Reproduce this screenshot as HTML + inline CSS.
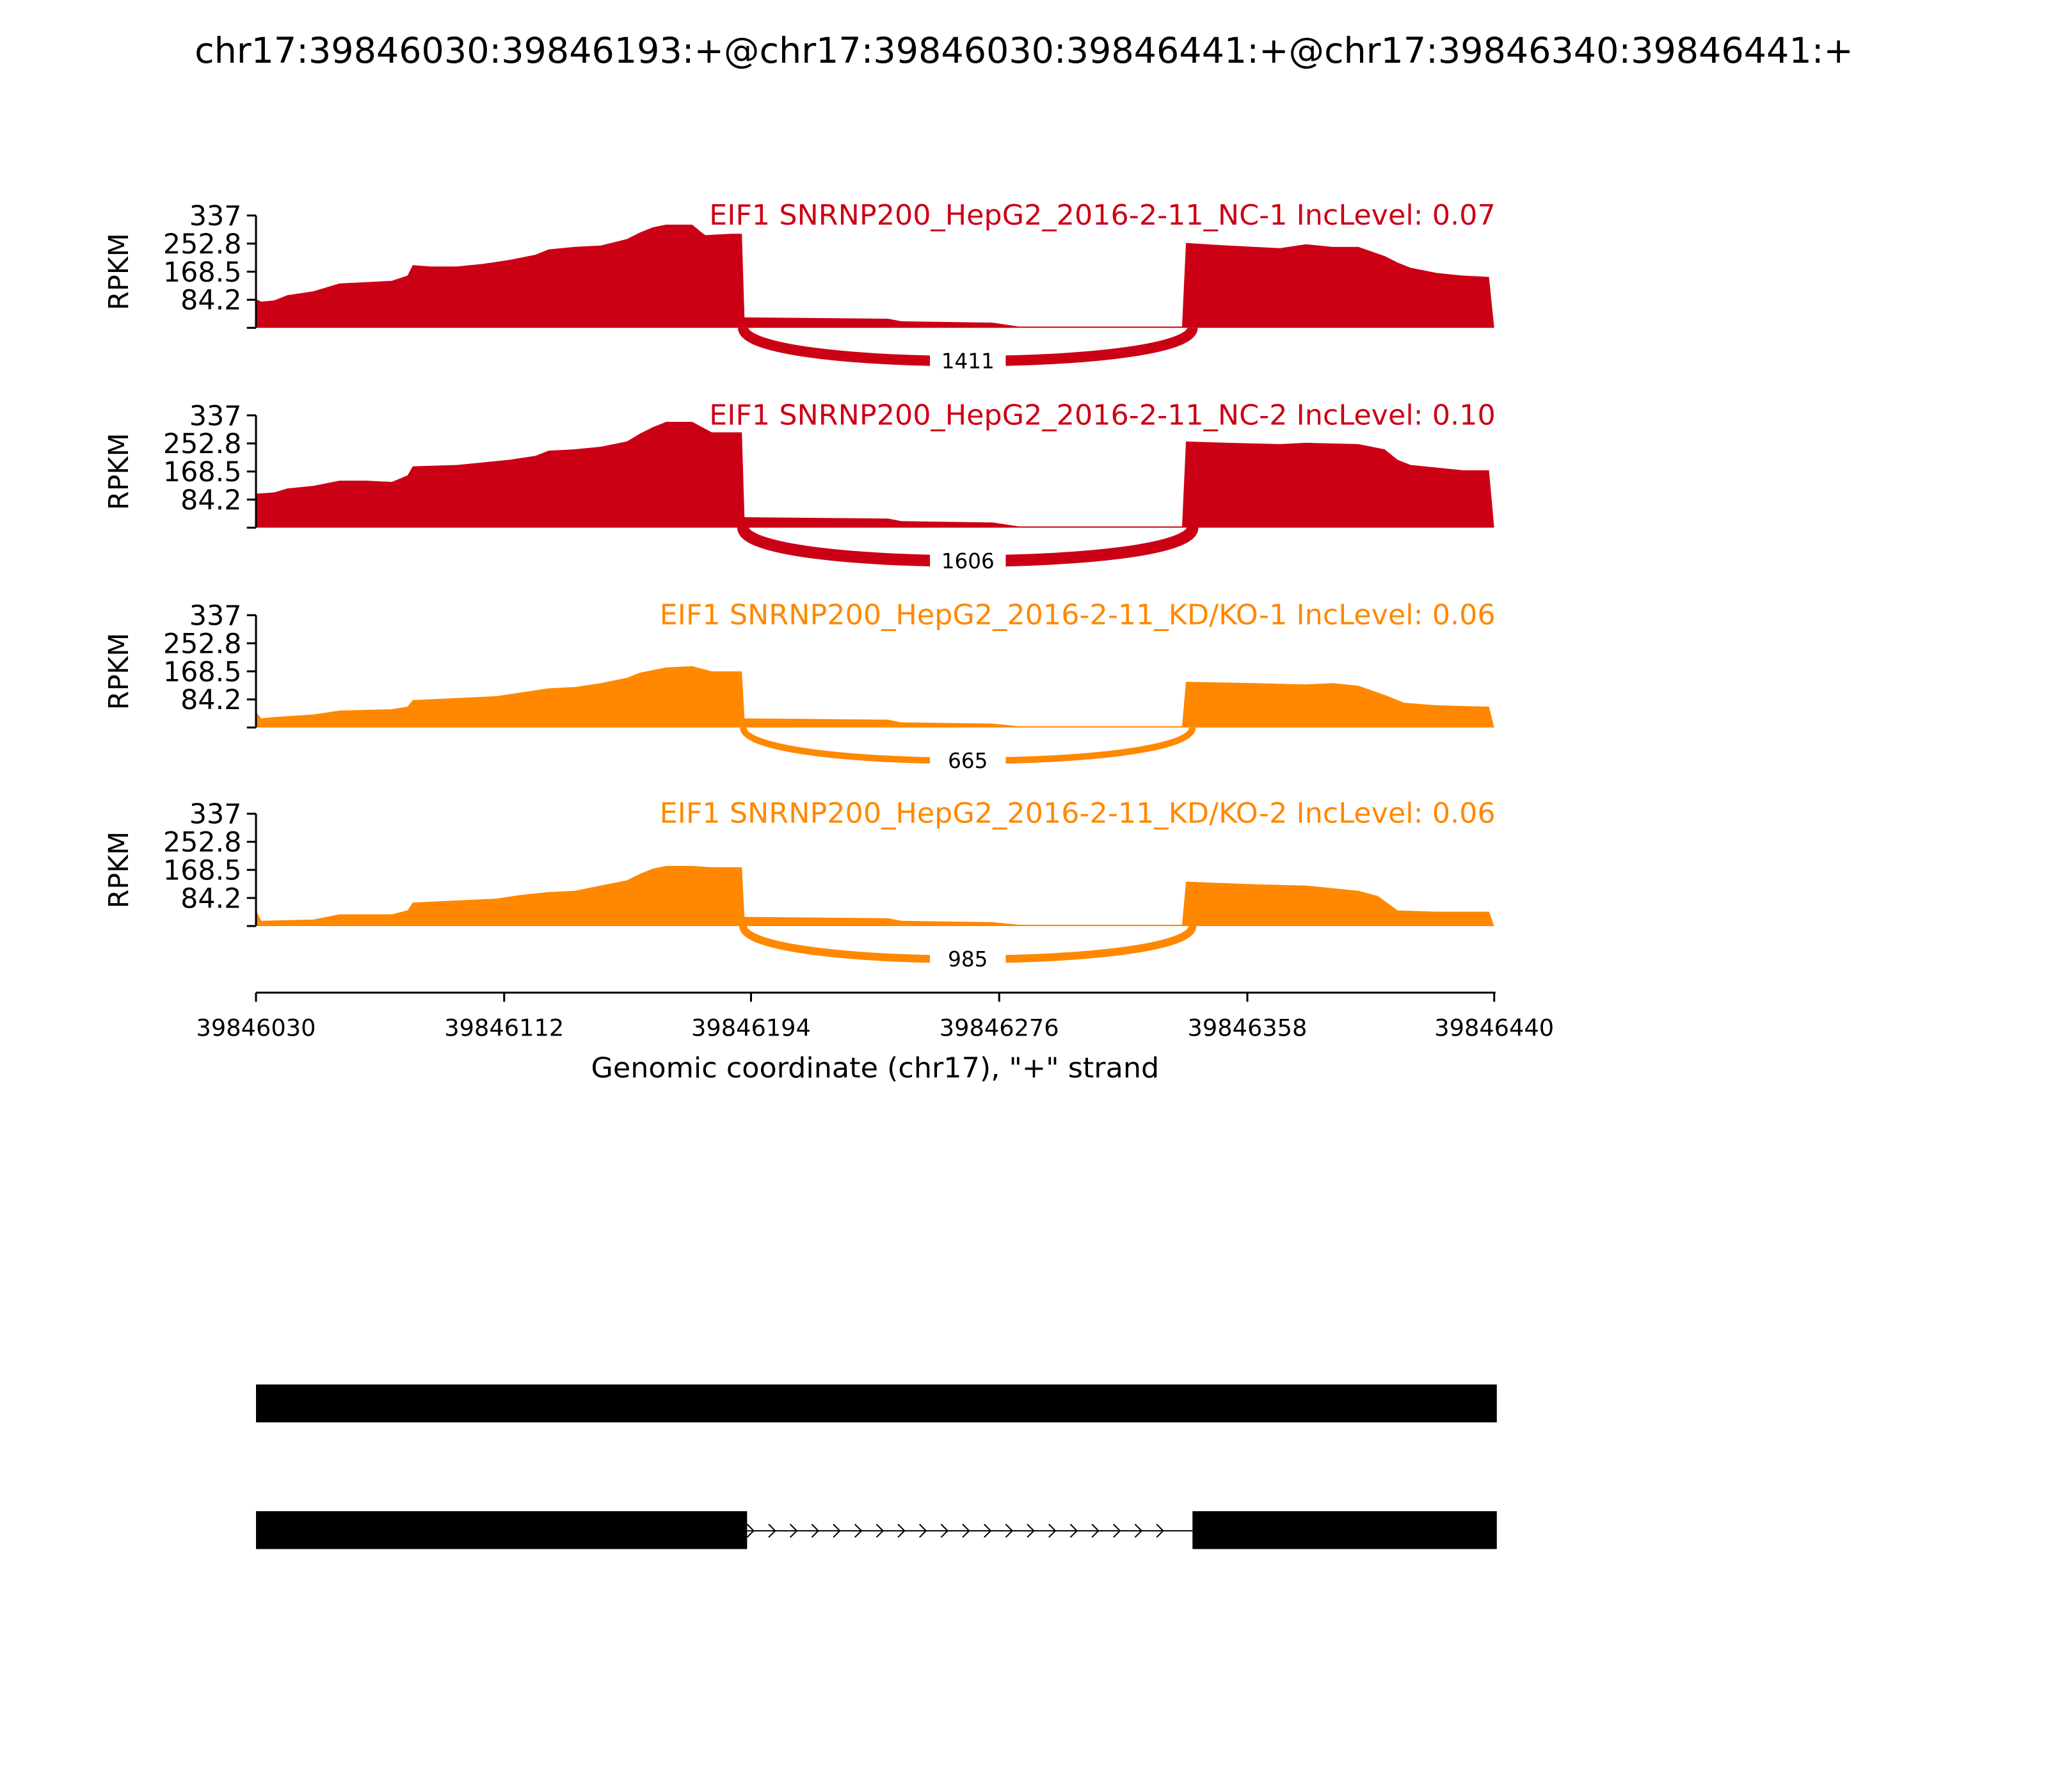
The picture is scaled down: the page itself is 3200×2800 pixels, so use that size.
<!DOCTYPE html>
<html><head><meta charset="utf-8"><style>body{margin:0;background:#fff}svg{display:block}text{font-family:"DejaVu Sans","Liberation Sans",sans-serif}</style></head>
<body>
<svg width="3200" height="2800" viewBox="0 0 1568 1372" xmlns="http://www.w3.org/2000/svg">
<rect width="1568" height="1372" fill="#fff"/>
<text x="784" y="48" font-size="27" text-anchor="middle" textLength="1270" lengthAdjust="spacingAndGlyphs">chr17:39846030:39846193:+@chr17:39846030:39846441:+@chr17:39846340:39846441:+</text>
<g id="panels"></g>
<g stroke="#000" stroke-width="1.5">
<line x1="196" y1="760" x2="1145" y2="760"/>
<line x1="196" y1="760" x2="196" y2="767"/><line x1="386" y1="760" x2="386" y2="767"/><line x1="575" y1="760" x2="575" y2="767"/><line x1="765" y1="760" x2="765" y2="767"/><line x1="955" y1="760" x2="955" y2="767"/><line x1="1144" y1="760" x2="1144" y2="767"/>
</g>
<g font-size="18" text-anchor="middle">
<text x="196" y="793">39846030</text><text x="386" y="793">39846112</text><text x="575" y="793">39846194</text><text x="765" y="793">39846276</text><text x="955" y="793">39846358</text><text x="1144" y="793">39846440</text>
</g>
<text x="670" y="825" font-size="21.5" text-anchor="middle" textLength="435" lengthAdjust="spacingAndGlyphs">Genomic coordinate (chr17), "+" strand</text>
<rect x="196" y="1060" width="950" height="29" fill="#000"/>
<rect x="196" y="1157" width="376" height="29" fill="#000"/>
<rect x="913" y="1157" width="233" height="29" fill="#000"/>
<line x1="572" y1="1172" x2="913" y2="1172" stroke="#000" stroke-width="1"/>
<g id="arrows" stroke="#000" stroke-width="1" fill="none"></g>
<script>
(function(){
var ns="http://www.w3.org/2000/svg";
var ar=document.getElementById("arrows");
for(var x=575;x<905;x+=16.5){var p=document.createElementNS(ns,"path");p.setAttribute("d","M"+(x-3)+" 1167 L"+(x+2)+" 1172 L"+(x-3)+" 1177");ar.appendChild(p);}
var panels=[
{top:165,col:"#CC0015",lab:"EIF1 SNRNP200_HepG2_2016-2-11_NC-1 IncLevel: 0.07",n:"1411",sw:8,
pts:[[196,22],[200,20],[210,21],[220,25],[240,28],[260,34],[280,35],[300,36],[312,40],[316,48],[330,47],[350,47],[370,49],[390,52],[410,56],[420,60],[440,62],[460,63],[480,68],[490,73],[500,77],[510,79],[530,79],[536,74],[540,71],[560,72],[568,72],[570,8],[680,7],[690,5],[760,4],[780,1],[905,1],[908,65],[940,63],[980,61],[1000,64],[1020,62],[1040,62],[1060,55],[1070,50],[1080,46],[1100,42],[1120,40],[1140,39],[1144,0]]},
{top:318,col:"#CC0015",lab:"EIF1 SNRNP200_HepG2_2016-2-11_NC-2 IncLevel: 0.10",n:"1606",sw:9,
pts:[[196,26],[210,27],[220,30],[240,32],[260,36],[280,36],[300,35],[312,40],[316,47],[350,48],[370,50],[390,52],[410,55],[420,59],[440,60],[460,62],[480,66],[490,72],[500,77],[510,81],[530,81],[545,73],[568,73],[570,8],[680,7],[690,5],[760,4],[780,1],[905,1],[908,66],[940,65],[980,64],[1000,65],[1040,64],[1060,60],[1070,52],[1080,48],[1100,46],[1120,44],[1140,44],[1144,0]]},
{top:471,col:"#FF8800",lab:"EIF1 SNRNP200_HepG2_2016-2-11_KD/KO-1 IncLevel: 0.06",n:"665",sw:5,
pts:[[196,12],[200,7],[210,8],[240,10],[260,13],[300,14],[312,16],[316,21],[380,24],[400,27],[420,30],[440,31],[460,34],[480,38],[490,42],[510,46],[530,47],[545,43],[568,43],[570,7],[680,6],[690,4],[760,3],[780,1],[905,1],[908,35],[960,34],[1000,33],[1020,34],[1040,32],[1060,25],[1075,19],[1100,17],[1140,16],[1144,0]]},
{top:623,col:"#FF8800",lab:"EIF1 SNRNP200_HepG2_2016-2-11_KD/KO-2 IncLevel: 0.06",n:"985",sw:6,
pts:[[196,12],[200,4],[240,5],[260,9],[300,9],[312,12],[316,18],[380,21],[400,24],[420,26],[440,27],[460,31],[480,35],[490,40],[500,44],[510,46],[530,46],[545,45],[568,45],[570,7],[680,6],[690,4],[760,3],[780,1],[905,1],[908,34],[960,32],[1000,31],[1020,29],[1040,27],[1055,23],[1070,12],[1100,11],[1140,11],[1144,0]]}
];
var g=document.getElementById("panels");
function el(t,a,txt){var e=document.createElementNS(ns,t);for(var k in a)e.setAttribute(k,a[k]);if(txt)e.textContent=txt;g.appendChild(e);return e;}
panels.forEach(function(p){
var b=p.top+86;
var d="M196 "+b;p.pts.forEach(function(q){d+=" L"+q[0]+" "+(b-q[1]);});d+=" L1144 "+b+" Z";
el("path",{d:d,fill:p.col});
el("path",{d:"M569 "+b+" C569 "+(b+34)+" 913 "+(b+34)+" 913 "+b,fill:"none",stroke:p.col,"stroke-width":p.sw});
el("rect",{x:712,y:b+14,width:58,height:24,fill:"#fff"});
el("text",{x:741,y:b+31,"font-size":"16","text-anchor":"middle"},p.n);
el("line",{x1:196,y1:p.top,x2:196,y2:b,stroke:"#000","stroke-width":1.5});
var ticks=[["337",0],["252.8",21.5],["168.5",43],["84.2",64.5],["",86]];
ticks.forEach(function(t){var y=p.top+t[1];el("line",{x1:189,y1:y,x2:196,y2:y,stroke:"#000","stroke-width":1.5});if(t[0])el("text",{x:185,y:y+7.5,"font-size":"21","text-anchor":"end"},t[0]);});
el("text",{x:98,y:p.top+43,"font-size":"21","text-anchor":"middle",transform:"rotate(-90 98 "+(p.top+43)+")"},"RPKM");
el("text",{x:1145,y:p.top+7,"font-size":"21.5","text-anchor":"end",fill:p.col,textLength:(p.lab.length>50?640:602),lengthAdjust:"spacingAndGlyphs"},p.lab);
});
})();
</script>
</svg>
</body></html>
